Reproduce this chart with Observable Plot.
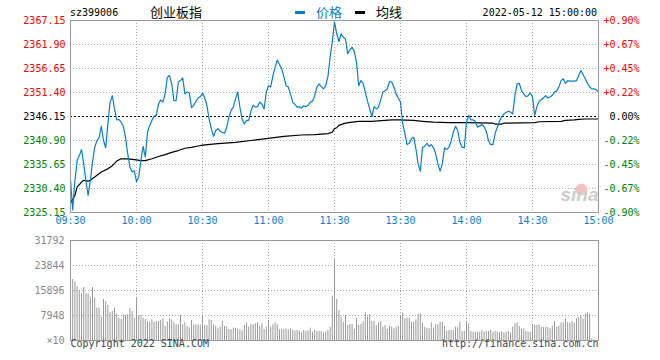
<!DOCTYPE html>
<html><head><meta charset="utf-8">
<script src="https://cdn.jsdelivr.net/npm/d3@7"></script>
<script src="https://cdn.jsdelivr.net/npm/@observablehq/plot@0.6"></script>
<style>
body{margin:0;background:#fff;}
#wrap{position:relative;width:660px;height:360px;overflow:hidden;background:#fff;font-family:"DejaVu Sans Mono",monospace;}
#wrap svg{position:absolute;left:0;}
.h{position:absolute;white-space:nowrap;z-index:2;}
.cjk{font-family:"Noto Sans CJK SC",sans-serif;font-size:13px;line-height:13px;}
.mono{font-family:"DejaVu Sans Mono",monospace;font-size:10px;line-height:10px;}
.bar{position:absolute;z-index:2;height:3px;width:10px;}
</style></head><body>
<div id="wrap"></div>
<script>
// ---- data ----
const stockCode = "sz399006";
const stockName = "创业板指";
const stamp = "2022-05-12 15:00:00";
const basePrice = 2346.15;
const priceTicks = [2325.15, 2330.40, 2335.65, 2340.90, 2346.15, 2351.40, 2356.65, 2361.90, 2367.15];
const priceLabels = ["2325.15","2330.40","2335.65","2340.90","2346.15","2351.40","2356.65","2361.90","2367.15"];
const pctLabels = ["-0.90%","-0.67%","-0.45%","-0.22%","0.00%","+0.22%","+0.45%","+0.67%","+0.90%"];
const timeTicks = [0, 30, 60, 90, 120, 150, 180, 210, 240];
const timeLabels = ["09:30","10:00","10:30","11:00","11:30","13:30","14:00","14:30","15:00"];
// price per minute (index = minutes since open, 11:30 and 13:00 share index 120)
const priceValues = [
2332.3,2325.7,2332.1,2336.5,2337.6,2338.9,2335.8,2332.1,2328.9,2332.1,
2336.2,2339.4,2340.8,2341.5,2344.0,2340.9,2339.3,2344.6,2349.3,2350.7,
2347.8,2345.4,2345.5,2344.9,2344.0,2341.6,2338.0,2335.1,2334.0,2334.3,
2331.9,2332.9,2336.5,2339.6,2337.3,2342.7,2344.2,2345.3,2346.2,2346.4,
2348.9,2349.8,2349.3,2351.1,2354.7,2355.1,2353.3,2349.6,2349.6,2353.7,
2354.0,2354.6,2351.1,2351.5,2351.3,2348.1,2348.6,2349.5,2350.2,2350.5,
2351.3,2350.2,2348.6,2345.6,2343.5,2341.8,2343.1,2343.5,2342.9,2342.7,
2342.5,2343.8,2346.0,2347.5,2348.2,2350.0,2351.5,2348.2,2345.6,2344.5,
2345.3,2345.3,2347.3,2348.6,2348.2,2348.3,2349.3,2348.9,2347.8,2351.5,
2352.9,2352.6,2355.1,2356.9,2358.5,2357.5,2356.6,2354.8,2352.9,2352.6,
2351.1,2349.3,2348.8,2348.2,2348.3,2348.0,2348.5,2348.3,2348.6,2349.3,
2349.5,2350.7,2352.6,2353.3,2352.7,2352.2,2352.9,2354.8,2359.1,2362.6,
2366.8,2364.3,2362.5,2364.2,2363.5,2363.1,2359.9,2360.7,2361.3,2360.4,
2358.0,2352.9,2354.0,2353.4,2351.5,2349.5,2347.8,2346.1,2348.3,2347.8,
2348.2,2349.8,2351.5,2351.8,2352.2,2353.8,2353.7,2352.6,2351.1,2350.2,
2349.3,2344.6,2342.4,2340.0,2340.3,2341.3,2341.6,2339.1,2335.8,2334.2,
2339.4,2339.6,2340.3,2339.6,2340.0,2339.3,2338.0,2335.8,2334.2,2335.8,
2339.3,2338.9,2339.4,2340.8,2342.7,2344.0,2343.1,2340.5,2339.4,2339.3,
2344.9,2346.4,2345.4,2345.4,2345.1,2343.8,2344.1,2344.4,2343.9,2342.9,
2340.9,2340.0,2340.0,2342.4,2343.8,2345.1,2346.1,2346.7,2347.0,2347.3,
2347.1,2346.7,2350.7,2353.3,2353.4,2351.8,2351.1,2350.5,2350.7,2351.3,
2350.4,2346.4,2348.3,2349.5,2349.8,2350.2,2350.7,2350.2,2350.4,2350.8,
2351.5,2351.7,2352.6,2354.0,2354.4,2353.4,2354.0,2353.9,2353.9,2353.9,
2354.0,2355.1,2356.2,2355.3,2354.4,2353.4,2352.6,2352.2,2352.2,2352.0,
2351.5];
const avgMinutes = [0,2,3,5,6,8,9,11,14,17,19,21,23,26,29,32,34,37,40,43,46,49,52,55,58,60,67,75,82,89,97,105,111,117,119,120,121,122,125,128,131,137,146,149,156,160,165,172,180,192,193,196,197,211,213,223,225,229,231,234,240];
const avgValues = [2327.2,2328.9,2330.7,2331.8,2332.2,2332.0,2332.2,2332.9,2334.0,2334.7,
2335.4,2336.4,2336.9,2336.9,2336.7,2336.5,2336.5,2336.9,2337.4,2337.8,
2338.3,2338.7,2339.2,2339.4,2339.7,2339.9,2340.2,2340.5,2340.9,2341.3,
2341.8,2342.1,2342.2,2342.4,2342.7,2343.5,2343.7,2344.2,2344.7,2344.9,
2345.1,2345.1,2345.4,2345.4,2345.3,2345.1,2344.9,2344.8,2344.8,2344.7,
2344.5,2344.5,2344.7,2344.8,2345.0,2345.1,2345.3,2345.4,2345.5,2345.6,2345.6];
// volume per minute, starting at minute 1
const volumeValues = [
19398,18762,17172,15900,14840,16854,14840,14840,13780,16854,
13462,10282,10282,7420,13038,12402,11130,8798,9222,10282,
8480,7102,6678,8162,7950,8162,10070,9222,7102,13462,
7738,7950,7102,6678,6042,5618,6572,5830,6042,6042,
6360,6890,4558,5830,6890,6572,5618,4982,4982,7950,
5088,5618,4452,4028,6360,4982,4982,4982,4982,8162,
4770,4770,6572,6360,5088,4558,3710,4240,6042,4452,
4240,3498,3392,3922,3922,3498,3392,3074,4770,5618,
4240,4982,4982,5300,5618,4452,5300,3498,4240,6360,
4240,4982,5618,4982,3392,3498,3498,3710,3392,3710,
3180,2968,3180,2968,2438,3180,2862,3074,3922,2650,
3180,2862,2862,2862,2438,2650,3180,4240,
14098,25652,13038,9540,7420,5830,7950,4770,5088,5088,
3498,7102,4770,5088,5830,8798,7420,8162,6042,6042,
4770,5618,6042,4240,4770,3498,4452,4240,3710,4240,
4558,7950,8798,6890,7102,7102,5830,5830,6572,8268,
8480,5512,4240,3922,3710,5618,3922,4982,4982,5830,
5830,4452,2968,3180,3180,3180,4240,4240,5830,2862,
2862,5830,5300,2862,2650,2650,2650,2650,3180,2650,
2862,2862,3180,2650,2862,2650,2438,2862,2438,2650,
2862,2438,4240,5300,5618,4452,3498,3710,2862,2650,
2650,4982,4770,4770,4982,4134,4134,4134,4134,3710,
4558,6042,4240,4558,5618,5618,6890,5830,5512,6042,
5512,6890,7420,7950,6678,8480,8798,8374,530];
const volTicks = [31792, 23844, 15896, 7948, 0];
const volLabels = ["31792","23844","15896","7948","×10"];
const copyLeft = "Copyright 2022 SINA.COM";
const copyRight = "http://finance.sina.com.cn";

// ---- styles ----
const BLUE = "#0b7dd0";
const GRID = {stroke: "#aaa", strokeDasharray: "1,2"};
const font = {fontFamily: '"DejaVu Sans Mono", monospace', fontSize: "10px", background: "transparent", overflow: "visible"};

const price = priceValues.map((p, i) => ({m: i, p}));
const avg = avgMinutes.map((m, i) => ({m, p: avgValues[i]}));
const gridMinutes = timeTicks.slice(1, -1);
const tickColor = d => d > basePrice ? "#ff0000" : d < basePrice ? "#008000" : "#000000";

const main = Plot.plot({
  width: 660, height: 232,
  marginLeft: 70, marginRight: 62, marginTop: 20, marginBottom: 20,
  x: {domain: [0, 240], axis: null},
  y: {domain: [priceTicks[0], priceTicks[priceTicks.length - 1]], axis: null},
  color: {type: "identity"},
  style: font,
  marks: [
    Plot.ruleY(priceTicks.filter(d => d !== basePrice), GRID),
    Plot.ruleX(gridMinutes, GRID),
    Plot.ruleY([basePrice], {stroke: "#000", strokeDasharray: "2,2"}),
    Plot.dot([0], {frameAnchor: "bottom-right", dx: -17, dy: -23, r: 6, fill: "#f3c3c3"}),
    Plot.text(["sina"], {frameAnchor: "bottom-right", dx: 0, dy: -12, textAnchor: "end", text: d => d, fill: "#cdcdcd", fontSize: 19, fontWeight: "bold", fontStyle: "italic", fontFamily: "Arial, Liberation Sans, sans-serif"}),
    Plot.line(avg, {x: "m", y: "p", stroke: "#000", strokeWidth: 1.2}),
    Plot.line(price, {x: "m", y: "p", stroke: BLUE, strokeWidth: 1.2}),
    Plot.frame({stroke: "#999"}),
    Plot.text(priceTicks, {y: d => d, frameAnchor: "left", dx: -5, textAnchor: "end", text: (d, i) => priceLabels[i], fill: tickColor}),
    Plot.text(priceTicks, {y: d => d, frameAnchor: "right", dx: 41, textAnchor: "end", text: (d, i) => pctLabels[i], fill: tickColor}),
    Plot.text(timeTicks, {x: d => d, frameAnchor: "bottom", dy: 11, text: (d, i) => timeLabels[i], fill: BLUE})
  ]
});

const vol = Plot.plot({
  width: 660, height: 128,
  marginLeft: 70, marginRight: 62, marginTop: 8, marginBottom: 20,
  x: {domain: [0, 240], axis: null},
  y: {domain: [0, volTicks[0]], axis: null},
  style: font,
  marks: [
    Plot.ruleY(volTicks.slice(1, -1), GRID),
    Plot.ruleX(gridMinutes, GRID),
    Plot.ruleX(volumeValues, {x: (d, i) => i + 1, y1: 0, y2: d => d, stroke: "#999"}),
    Plot.frame({stroke: "#999"}),
    Plot.text(volTicks, {y: d => d, frameAnchor: "left", dx: -6, textAnchor: "end", text: (d, i) => volLabels[i], fill: "#888"}),
    Plot.text([copyLeft], {frameAnchor: "bottom-left", dy: 6, textAnchor: "start", text: d => d, fill: "#444"}),
    Plot.text([copyRight], {frameAnchor: "bottom-right", dy: 6, textAnchor: "end", text: d => d, fill: "#444"})
  ]
});

const wrap = document.getElementById("wrap");
main.style.top = "0px";
vol.style.top = "232px";
wrap.appendChild(main);
wrap.appendChild(vol);

function addText(txt, cls, left, top, color) {
  const d = document.createElement("div");
  d.className = "h " + cls;
  d.textContent = txt;
  d.style.left = left + "px";
  d.style.top = top + "px";
  d.style.color = color;
  wrap.appendChild(d);
  return d;
}
addText(stockCode, "mono", 70, 8, "#000");
addText(stockName, "cjk", 150, 5, "#000");
addText("价格", "cjk", 316, 5, BLUE);
addText("均线", "cjk", 376, 5, "#000");
const st = addText(stamp, "mono", 0, 8, "#000");
st.style.left = (597 - st.getBoundingClientRect().width) + "px";
function addBar(left, color) {
  const b = document.createElement("div");
  b.className = "bar";
  b.style.left = left + "px"; b.style.top = "11px"; b.style.background = color;
  wrap.appendChild(b);
}
addBar(295, BLUE);
addBar(355, "#000");
</script>
</body></html>
